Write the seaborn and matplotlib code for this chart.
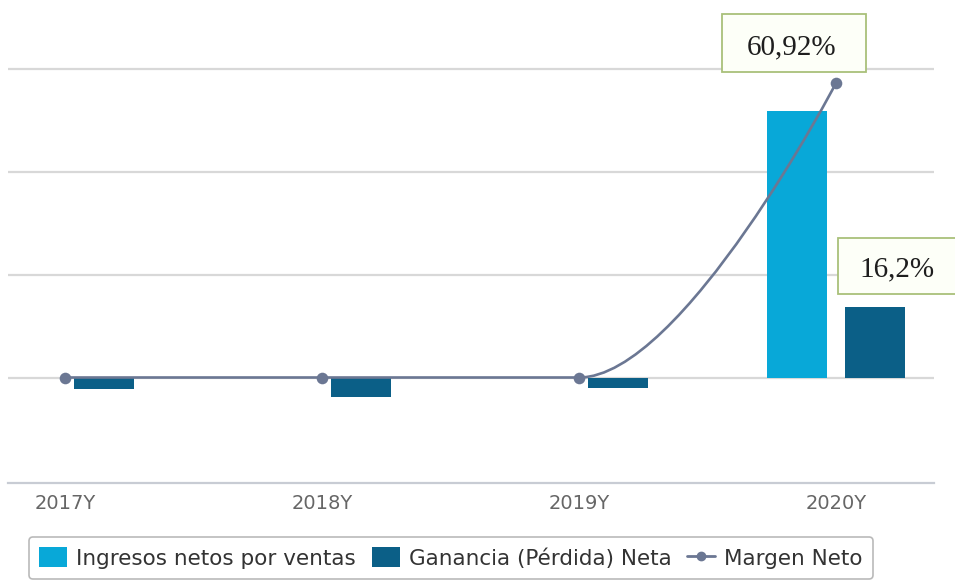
import numpy as np
import pandas as pd
import matplotlib
matplotlib.use("Agg")
import matplotlib.pyplot as plt
from matplotlib.path import Path
from matplotlib.patches import PathPatch, Patch, Rectangle
from matplotlib.lines import Line2D
import seaborn as sns

# ---- data ----
years = ["2017Y", "2018Y", "2019Y", "2020Y"]
ingresos = [0.0, 0.0, 0.0, 2.59]          # Ingresos netos por ventas (relative units)
ganancia = [-0.11, -0.19, -0.10, 0.68]    # Ganancia (Pérdida) Neta (relative units)
margen = [0.0, 0.0, 0.0, 60.92]           # Margen Neto (%)
series_names = ["Ingresos netos por ventas", "Ganancia (Pérdida) Neta", "Margen Neto"]
label_texts = ["60,92%", "16,2%"]

c_ing = "#08a8d8"
c_gan = "#0b5f87"
c_line = "#6b7793"

sns.set_style("white")
plt.rcParams["font.family"] = ["DejaVu Sans"]

W, H = 955, 581
fig = plt.figure(figsize=(W / 100, H / 100), dpi=100)
ax_left, ax_right, ax_bottom_px = 8, 934, 483
ax = fig.add_axes([ax_left / W, (H - ax_bottom_px) / H, (ax_right - ax_left) / W, ax_bottom_px / H])

df = pd.DataFrame({
    "year": years * 2,
    "value": ingresos + ganancia,
    "serie": [series_names[0]] * len(years) + [series_names[1]] * len(years),
})
sns.barplot(data=df, x="year", y="value", hue="serie", order=years,
            hue_order=series_names[:2], palette=[c_ing, c_gan],
            width=0.607, gap=0.23, linewidth=0, saturation=1, ax=ax, legend=False,
            errorbar=None)

zero_px, unit_px = 377.5, 103.0
y_lo = (zero_px - ax_bottom_px) / unit_px
y_hi = zero_px / unit_px
ax.set_ylim(y_lo, y_hi)
ax.set_xlim(-0.222, 3.381)
ax.set_yticks([0, 1, 2, 3])
ax.set_yticklabels([])
ax.tick_params(axis="y", length=0)
ax.grid(axis="y", color="#d8d8d8", linewidth=1.6)
ax.set_axisbelow(True)
for s in ["top", "right", "left"]:
    ax.spines[s].set_visible(False)
ax.spines["bottom"].set_color("#c8ccd4")
ax.spines["bottom"].set_linewidth(1.6)
ax.set_xlabel("")
ax.set_ylabel("")
ax.tick_params(axis="x", length=0, pad=8, labelsize=14, labelcolor="#666666")
ax.set_xticks(range(len(years)), minor=False)
ax.set_xticks([0.5, 1.5, 2.5], minor=True)
ax.tick_params(axis="x", which="minor", length=5, color="#c8ccd4", width=1)

# ---- Margen Neto on secondary axis (spline) ----
ax2 = ax.twinx()
m_point_units = (zero_px - 83) / unit_px
k = margen[3] / m_point_units
ax2.set_ylim(y_lo * k, y_hi * k)
ax2.set_yticks([])
for s in ax2.spines.values():
    s.set_visible(False)

xs = np.arange(len(years), dtype=float)
ys = np.array(margen, dtype=float)


def spline_path(xs, ys, smoothing=1.5):
    n = len(xs)
    left = [None] * n
    right = [None] * n
    d = smoothing + 1
    for i in range(1, n - 1):
        lx = (smoothing * xs[i] + xs[i - 1]) / d
        ly = (smoothing * ys[i] + ys[i - 1]) / d
        rx = (smoothing * xs[i] + xs[i + 1]) / d
        ry = (smoothing * ys[i] + ys[i + 1]) / d
        if rx != lx:
            corr = ((ry - ly) * (rx - xs[i])) / (rx - lx) + ys[i] - ry
            ly += corr
            ry += corr
        if ly > ys[i - 1] and ly > ys[i]:
            ly = max(ys[i - 1], ys[i]); ry = 2 * ys[i] - ly
        elif ly < ys[i - 1] and ly < ys[i]:
            ly = min(ys[i - 1], ys[i]); ry = 2 * ys[i] - ly
        if ry > ys[i + 1] and ry > ys[i]:
            ry = max(ys[i + 1], ys[i]); ly = 2 * ys[i] - ry
        elif ry < ys[i + 1] and ry < ys[i]:
            ry = min(ys[i + 1], ys[i]); ly = 2 * ys[i] - ry
        left[i] = (lx, ly)
        right[i] = (rx, ry)
    verts = [(xs[0], ys[0])]
    codes = [Path.MOVETO]
    for i in range(1, n):
        c1 = right[i - 1] if right[i - 1] is not None else (xs[i - 1], ys[i - 1])
        c2 = left[i] if left[i] is not None else (xs[i], ys[i])
        verts += [c1, c2, (xs[i], ys[i])]
        codes += [Path.CURVE4] * 3
    return Path(verts, codes)


ax2.add_patch(PathPatch(spline_path(xs, ys), facecolor="none", edgecolor=c_line,
                        linewidth=1.9, zorder=5))
sns.scatterplot(x=xs, y=ys, ax=ax2, color=c_line, s=70, linewidth=0, zorder=6, legend=False)
ax2.set_xlim(ax.get_xlim())

# ---- value label boxes ----
def label_box(x0, y0, x1, y1, text, tx, ty, fs):
    fig.patches.append(Rectangle((x0 / W, 1 - y1 / H), (x1 - x0) / W, (y1 - y0) / H,
                                 transform=fig.transFigure, facecolor="#fdfff8",
                                 edgecolor="#a9c07a", linewidth=1.3, zorder=10))
    fig.text(tx / W, 1 - ty / H, text, ha="center", va="center", fontsize=fs,
             family=["Liberation Serif"], color="#1e1e1e", zorder=11)


label_box(722, 14, 866, 72, label_texts[0], 792, 47, 21)
label_box(838, 238, 958, 294, label_texts[1], 897, 269, 21)

# ---- legend ----
handles = [
    Patch(facecolor=c_ing, edgecolor="none"),
    Patch(facecolor=c_gan, edgecolor="none"),
    Line2D([0], [0], color=c_line, lw=2, marker="o", markersize=6),
]
leg = fig.legend(handles, series_names, ncol=3, loc="center",
                 bbox_to_anchor=(451 / W, 1 - 558 / H), frameon=True, fancybox=True,
                 fontsize=15.5, handlelength=1.3, handleheight=1.0, handletextpad=0.4,
                 columnspacing=0.75, borderpad=0.5, labelcolor="#333333")
leg.get_frame().set_edgecolor("#a8a8a8")
leg.get_frame().set_linewidth(1.2)

fig.savefig("out.png", dpi=100)
